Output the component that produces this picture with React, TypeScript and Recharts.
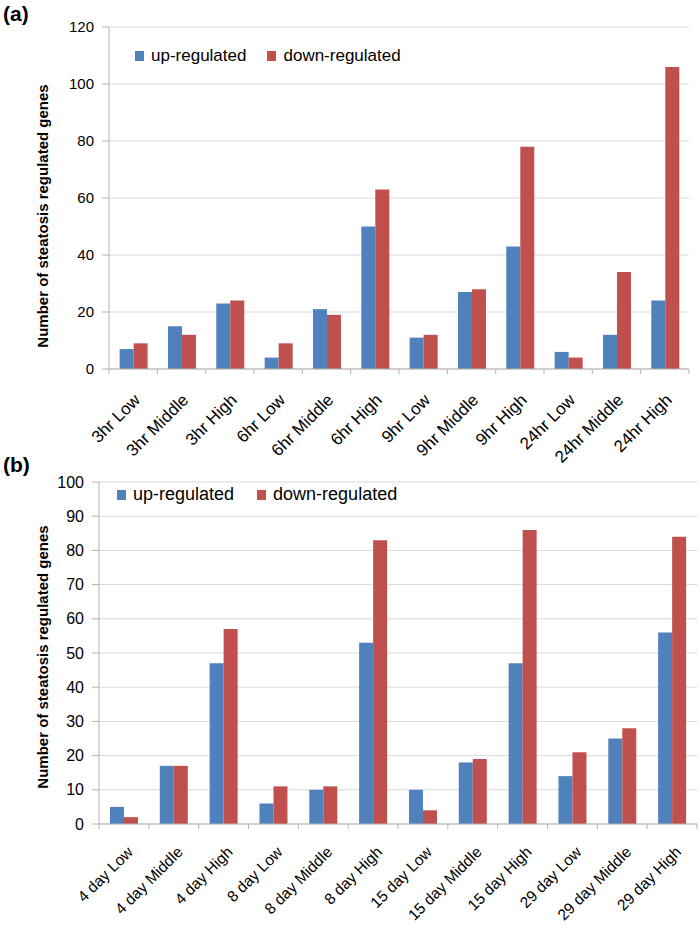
import { BarChart, Bar, XAxis, YAxis, CartesianGrid, Legend } from "recharts";

const hrCats = ["3hr Low","3hr Middle","3hr High","6hr Low","6hr Middle","6hr High","9hr Low","9hr Middle","9hr High","24hr Low","24hr Middle","24hr High"];
const hrUp = [7, 15, 23, 4, 21, 50, 11, 27, 43, 6, 12, 24];
const hrDown = [9, 12, 24, 9, 19, 63, 12, 28, 78, 4, 34, 106];
const hrTicks = [0, 20, 40, 60, 80, 100, 120];

const dayCats = ["4 day Low","4 day Middle","4 day High","8 day Low","8 day Middle","8 day High","15 day Low","15 day Middle","15 day High","29 day Low","29 day Middle","29 day High"];
const dayUp = [5, 17, 47, 6, 10, 53, 10, 18, 47, 14, 25, 56];
const dayDown = [2, 17, 57, 11, 11, 83, 4, 19, 86, 21, 28, 84];
const dayTicks = [0, 10, 20, 30, 40, 50, 60, 70, 80, 90, 100];

const seriesOrder = ["up", "down"];

const BLUE = "#4F81BD";
const RED = "#C0504D";
const AXIS = "#B3B3B3";
const GRID = "#D9D9D9";
const FONT = "'Liberation Sans', Arial, sans-serif";
const YLABEL = "Number of steatosis regulated genes";

type Geo = { h: number; top: number; bottom: number; left: number; right: number };

function Panel({ cats, up, down, ticks, geo, legendTop, legendLeft, legendFont, legendGap, labelY, tickFont, tickDx, tickDy, yFont }: {
  cats: string[]; up: number[]; down: number[]; ticks: number[]; geo: Geo;
  legendTop: number; legendLeft: number; legendFont: number; legendGap: number;
  labelY: number; tickFont: number; tickDx: number; tickDy: number; yFont: number;
}) {
  const data = cats.map((c, i) => ({ name: c, up: up[i], down: down[i] }));
  const band = (geo.right - geo.left) / cats.length;
  const axisY = geo.bottom;

  const XTick = (props: any) => {
    const { x, payload, index } = props;
    const tx = x + tickDx;
    const ty = axisY + tickDy;
    return (
      <g>
        <line x1={x - band / 2} x2={x - band / 2} y1={axisY} y2={axisY + 5} stroke={AXIS} />
        {index === cats.length - 1 && (
          <line x1={x + band / 2} x2={x + band / 2} y1={axisY} y2={axisY + 5} stroke={AXIS} />
        )}
        <text x={tx} y={ty} transform={`rotate(-45 ${tx} ${ty})`} textAnchor="end"
              fontSize={tickFont} fill="#000" fontFamily={FONT}>
          {payload.value}
        </text>
      </g>
    );
  };

  // keep legend in series order (up first)
  const legendContent = (p: any) => {
    const items = [...(p.payload || [])].sort(
      (a: any, b: any) => seriesOrder.indexOf(a.dataKey) - seriesOrder.indexOf(b.dataKey)
    );
    return (
      <div style={{ display: "flex", alignItems: "center", fontFamily: FONT, fontSize: legendFont, color: "#000", whiteSpace: "nowrap" }}>
        {items.map((e: any, i: number) => (
          <span key={e.value} style={{ display: "inline-flex", alignItems: "center", marginRight: i === 0 ? legendGap : 0 }}>
            <span style={{ width: 9, height: 10, background: e.color, marginRight: 7, display: "inline-block" }} />
            {e.value}
          </span>
        ))}
      </div>
    );
  };

  return (
    <BarChart width={700} height={geo.h} data={data}
              margin={{ top: geo.top, right: 700 - geo.right, bottom: 0, left: 0 }}
              barCategoryGap="22%" barGap={0}>
      <CartesianGrid vertical={false} stroke={GRID} />
      <XAxis dataKey="name" interval={0} height={geo.h - geo.bottom} tickLine={false}
             axisLine={{ stroke: AXIS }} tick={XTick} />
      <YAxis width={geo.left} domain={[ticks[0], ticks[ticks.length - 1]]} ticks={ticks}
             interval={0} axisLine={{ stroke: AXIS }} tickLine={{ stroke: AXIS }} tickSize={7}
             tickMargin={8} tick={{ fill: "#000", fontSize: yFont, fontFamily: FONT }}
             label={{
               content: () => (
                 <text x={42} y={labelY} transform={`rotate(-90 42 ${labelY})`} textAnchor="middle"
                       dominantBaseline="central" fontWeight="bold" fontSize={15} fontFamily={FONT} fill="#000">
                   {YLABEL}
                 </text>
               ),
             }} />
      {/* middle/center so the legend does not push the plot down; placed by wrapperStyle */}
      <Legend verticalAlign="middle" align="center" layout="horizontal" content={legendContent}
              wrapperStyle={{ top: legendTop, left: legendLeft, width: "auto", height: "auto" }} />
      <Bar dataKey="up" name="up-regulated" fill={BLUE} isAnimationActive={false} />
      <Bar dataKey="down" name="down-regulated" fill={RED} isAnimationActive={false} />
    </BarChart>
  );
}

export default function App() {
  return (
    <div style={{ position: "absolute", left: 0, top: 0, width: 700, height: 925, background: "#fff", fontFamily: FONT, overflow: "hidden" }}>
      <div style={{ position: "absolute", left: 3, top: 2, fontSize: 21, fontWeight: "bold" }}>(a)</div>
      <div style={{ position: "absolute", left: 0, top: 0 }}>
        <Panel cats={hrCats} up={hrUp} down={hrDown} ticks={hrTicks}
               geo={{ h: 470, top: 27, bottom: 369, left: 109, right: 689 }}
               legendTop={46} legendLeft={135} legendFont={17} legendGap={21}
               labelY={216} tickFont={17} tickDx={8} tickDy={32} yFont={15} />
      </div>
      <div style={{ position: "absolute", left: 3, top: 453, fontSize: 21, fontWeight: "bold" }}>(b)</div>
      <div style={{ position: "absolute", left: 0, top: 460 }}>
        <Panel cats={dayCats} up={dayUp} down={dayDown} ticks={dayTicks}
               geo={{ h: 465, top: 22, bottom: 364, left: 99, right: 697 }}
               legendTop={24} legendLeft={117} legendFont={18} legendGap={23}
               labelY={197} tickFont={15.5} tickDx={10} tickDy={29} yFont={16} />
      </div>
    </div>
  );
}
